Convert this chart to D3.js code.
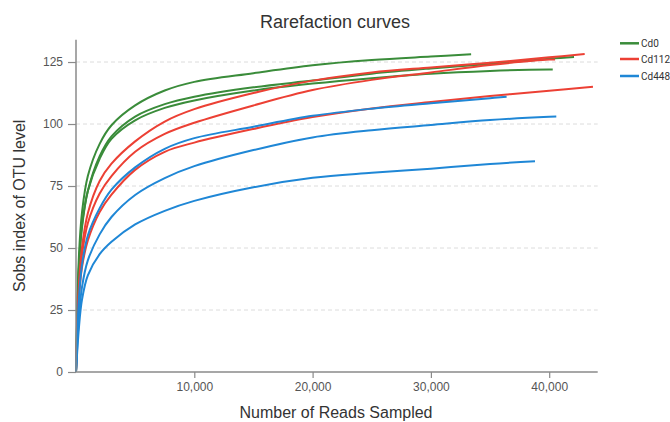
<!DOCTYPE html>
<html>
<head>
<meta charset="utf-8">
<script src="https://cdn.jsdelivr.net/npm/d3@7"></script>
<style>
  body { margin: 0; background: #fff; }
  text { font-family: "Liberation Sans", Arial, sans-serif; }
</style>
</head>
<body>
<div class="chart"></div>
<script>
var w = 670,
  h = 422;

// sequencing depths the curves were read at
var depths = [0, 250, 500, 1000, 2000, 3000, 5000, 7500, 10000, 15000, 20000, 25000, 30000, 35000, 40000];

var groups = ['Cd0', 'Cd112', 'Cd448'];
var groupColors = ['#3a8c3a', '#ec4034', '#1f87d6'];

// sobs per depth, last pair is where the sample stops
var cd0a = [0, 47, 64, 79, 92, 99.5, 107.5, 113.5, 117, 120.5, 123.7, 125.8, 127.2];
var cd0aEnd = [33400, 128.1];
var cd0b = [0, 42, 58, 73, 87, 95, 103, 108, 111, 114.8, 117.5, 120.3, 122.4, 124.2, 126.3];
var cd0bEnd = [42100, 127];
var cd0c = [0, 43, 59, 73, 86, 94, 101.5, 106.5, 109.5, 113.5, 116.3, 118.5, 120.3, 121.4, 122];
var cd0cEnd = [40300, 122];

var cd112a = [0, 35, 50, 64, 77, 84, 93, 101, 106, 112.5, 117.5, 120.8, 122.8, 124.7, 126.9];
var cd112aEnd = [43000, 128.2];
var cd112b = [0, 33, 47, 60, 72, 79, 88.8, 96, 100.5, 107.5, 113.7, 117.8, 120.8, 123.8, 126];
var cd112bEnd = [40500, 126];
var cd112c = [0, 30, 42, 53, 64.5, 71.5, 81.5, 88.8, 92.5, 98, 102.8, 106.3, 108.9, 111.3, 113.4];
var cd112cEnd = [43700, 115];

var cd448a = [0, 30, 43, 55, 66, 73.5, 82.5, 90, 94.3, 98.9, 103.3, 106.2, 108.4, 110.4];
var cd448aEnd = [36400, 111];
var cd448b = [0, 22, 34, 45, 55.5, 62.5, 71.4, 78.2, 83, 89.5, 94.6, 97.5, 99.6, 101.6, 102.9];
var cd448bEnd = [40600, 103];
var cd448c = [0, 18, 29, 39, 47.5, 52.5, 59.5, 65, 69, 74.5, 78.3, 80.3, 82, 83.9];
var cd448cEnd = [38800, 85];

var xTicks = [10000, 20000, 30000, 40000];
var yTicks = [0, 25, 50, 75, 100, 125];

var makeSample = function (group, vals, end) {
  var pts = vals.map(function (v, i) {
    return [depths[i], v];
  }).filter(function (p) { return p[0] < end[0]; });
  pts.push(end);
  return { group: group, points: pts };
};

var samples = [
  makeSample('Cd0', cd0a, cd0aEnd),
  makeSample('Cd0', cd0b, cd0bEnd),
  makeSample('Cd0', cd0c, cd0cEnd),
  makeSample('Cd112', cd112a, cd112aEnd),
  makeSample('Cd112', cd112b, cd112bEnd),
  makeSample('Cd112', cd112c, cd112cEnd),
  makeSample('Cd448', cd448a, cd448aEnd),
  makeSample('Cd448', cd448b, cd448bEnd),
  makeSample('Cd448', cd448c, cd448cEnd)
];

var color = d3.scaleOrdinal().domain(groups).range(groupColors);

var x = d3.scaleLinear().domain([0, 44100]).range([76, 597.7]);
var y = d3.scaleLinear().domain([0, 134]).range([372, 39.7]);

var svg = d3.select('.chart')
  .append('svg')
  .attr('width', w)
  .attr('height', h);

// dashed grid
svg.append('g')
  .selectAll('line')
  .data(yTicks.filter(function (d) { return d > 0; }))
  .enter()
  .append('line')
  .attr('x1', x(0))
  .attr('x2', x(44100))
  .attr('y1', function (d) { return y(d); })
  .attr('y2', function (d) { return y(d); })
  .attr('stroke', '#dcdcdc')
  .attr('stroke-dasharray', '4,3');

var line = d3.line()
  .x(function (d) { return x(d[0]); })
  .y(function (d) { return y(d[1]); })
  .curve(d3.curveCatmullRom.alpha(0.5));

svg.append('g')
  .selectAll('path')
  .data(samples)
  .enter()
  .append('path')
  .attr('d', function (d) { return line(d.points); })
  .attr('fill', 'none')
  .attr('stroke', function (d) { return color(d.group); })
  .attr('stroke-width', 2);

// axes
var xAxis = svg.append('g')
  .attr('transform', 'translate(0,' + y(0) + ')')
  .call(d3.axisBottom(x).tickValues(xTicks).tickFormat(d3.format(',')).tickSize(6).tickPadding(4));

var yAxis = svg.append('g')
  .attr('transform', 'translate(' + x(0) + ',0)')
  .call(d3.axisLeft(y).tickValues(yTicks).tickSize(8).tickPadding(5));

[xAxis, yAxis].forEach(function (g) {
  g.select('.domain').attr('stroke', '#8a8a8a').attr('stroke-width', 1.5);
  g.selectAll('.tick line').attr('stroke', '#8a8a8a').attr('stroke-width', 1.2);
  g.selectAll('.tick text').attr('fill', '#555').style('font-size', '12px');
});
xAxis.select('.domain').attr('d', 'M' + x(0) + ',0H' + x(44100));
yAxis.select('.domain').attr('d', 'M0,' + y(0) + 'V' + y(134));

// titles
svg.append('text')
  .attr('x', 335)
  .attr('y', 28)
  .attr('text-anchor', 'middle')
  .attr('fill', '#333')
  .style('font-size', '18px')
  .text('Rarefaction curves');

svg.append('text')
  .attr('x', 336)
  .attr('y', 418)
  .attr('text-anchor', 'middle')
  .attr('fill', '#333')
  .style('font-size', '16px')
  .text('Number of Reads Sampled');

svg.append('text')
  .attr('transform', 'translate(25,' + y(67) + ') rotate(-90)')
  .attr('text-anchor', 'middle')
  .attr('fill', '#333')
  .style('font-size', '16px')
  .text('Sobs index of OTU level');

// legend
var legend = svg.append('g')
  .selectAll('g')
  .data(groups)
  .enter()
  .append('g')
  .attr('transform', function (d, i) { return 'translate(620,' + [43.3, 59, 76][i] + ')'; });

legend.append('line')
  .attr('x1', 0)
  .attr('x2', 19)
  .attr('stroke', function (d) { return color(d); })
  .attr('stroke-width', 2.5);

legend.append('text')
  .attr('x', 21)
  .attr('dy', '0.35em')
  .attr('fill', '#333')
  .style('font-size', '10px')
  .style('font-family', 'Roboto, sans-serif')
  .text(function (d) { return d; });
</script>
</body>
</html>
